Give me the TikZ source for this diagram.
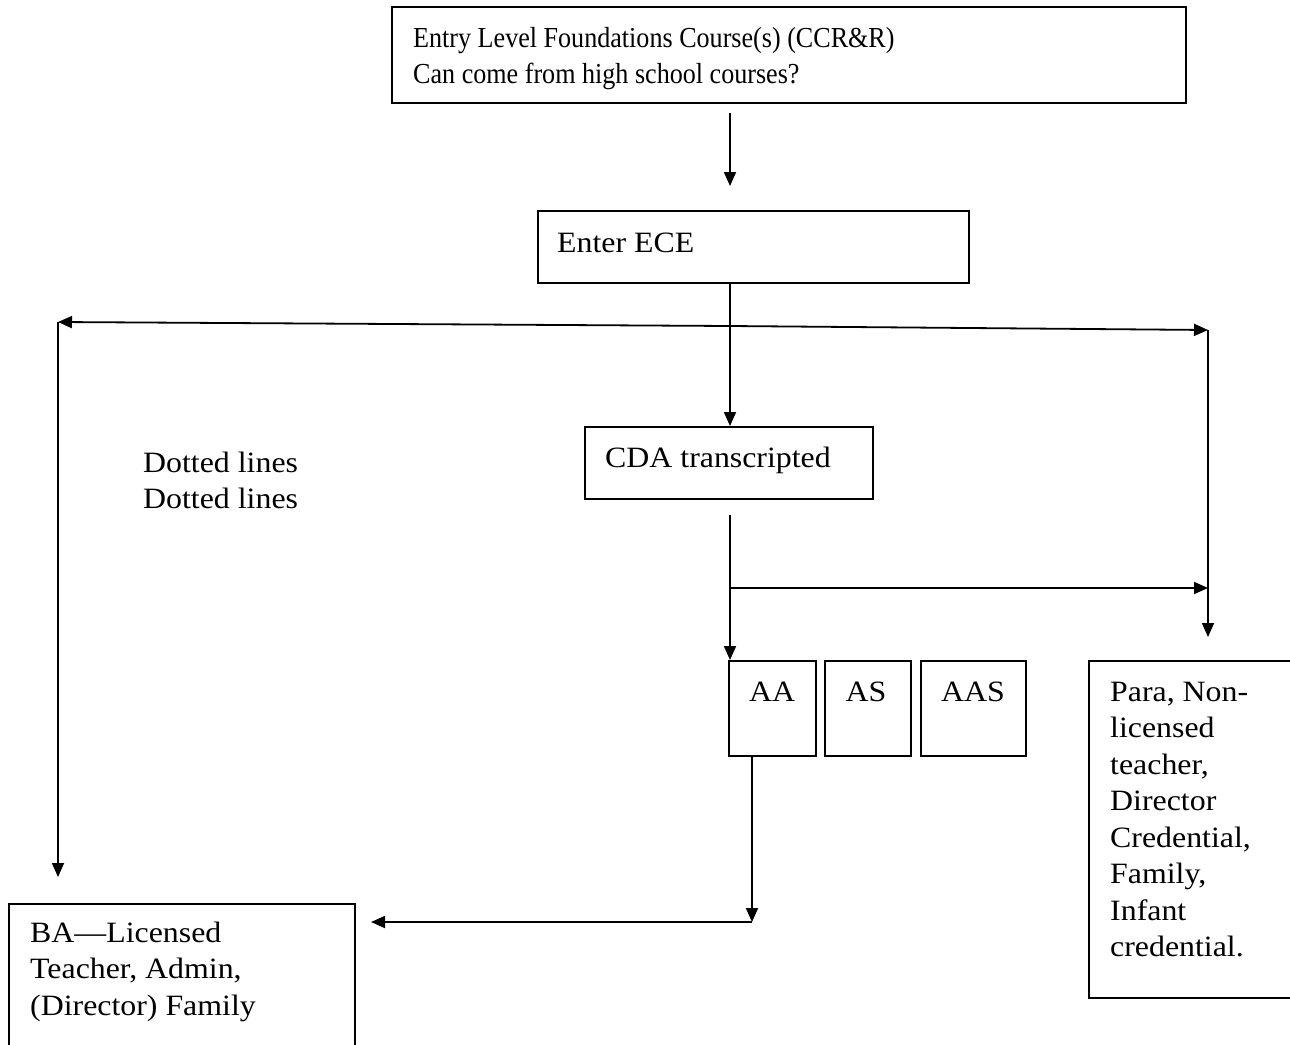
\documentclass[tikz,border=0pt]{standalone}
\usepackage{fontspec}
\setmainfont[FakeStretch=1.08]{Liberation Serif}
\newfontfamily\narrowserif[FakeStretch=0.9]{Liberation Serif}
\usetikzlibrary{arrows.meta}
\newcommand{\mlines}[1]{\parbox[t]{600pt}{#1}}
\begin{document}
\begin{tikzpicture}[x=1pt,y=-1pt,
  box/.style={draw, line width=1.8pt, inner sep=0pt, anchor=north west},
  txt/.style={inner sep=0pt, anchor=base west, font=\fontsize{29.5}{36.5}\selectfont},
  ctxt/.style={inner sep=0pt, anchor=base, font=\fontsize{29.5}{36.5}\selectfont},
  ln/.style={line width=1.8pt},
  arr/.style={line width=1.8pt, -{Triangle[length=14pt,width=12pt]}}]
\useasboundingbox (0,0) rectangle (1290,1044);

% boxes
\node[box, minimum width=794pt, minimum height=96pt] (top) at (391,6) {};
\node[box, minimum width=431pt, minimum height=72pt] (ece) at (537,210) {};
\node[box, minimum width=288pt, minimum height=72pt] (cda) at (584,426) {};
\node[box, minimum width=87pt, minimum height=95pt] (aa) at (728,660) {};
\node[box, minimum width=86pt, minimum height=95pt] (as) at (824,660) {};
\node[box, minimum width=105pt, minimum height=95pt] (aas) at (920,660) {};
\node[box, minimum width=222pt, minimum height=337pt] (para) at (1088,660) {};
\node[box, minimum width=346pt, minimum height=160pt] (ba) at (8,903) {};

% texts
\node[txt, font=\fontsize{29}{36}\narrowserif] (toptxt) at (413,47) {\mlines{Entry Level Foundations Course(s) (CCR\&R)\\Can come from high school courses?}};
\node[txt] (ecetxt) at (557,252) {Enter ECE};
\node[txt] (cdatxt) at (605,467) {CDA transcripted};
\node[txt] (dotted) at (143,472) {\mlines{Dotted lines\\Dotted lines}};
\node[ctxt] (aatxt) at (772,701) {AA};
\node[ctxt] (astxt) at (866,701) {AS};
\node[ctxt] (aastxt) at (973,701) {AAS};
\node[txt] (paratxt) at (1110,701) {\mlines{Para, Non-\\licensed\\teacher,\\Director\\Credential,\\Family,\\Infant\\credential.}};
\node[txt] (batxt) at (30,942) {\mlines{BA—Licensed\\Teacher, Admin,\\(Director) Family}};

% connector points
\coordinate (t1) at (730,113);
\coordinate (t2) at (730,186);
\coordinate (j1) at (730,326);
\coordinate (l1) at (58,322);
\coordinate (l2) at (58,877);
\coordinate (r1) at (1208,330);
\coordinate (r2) at (1208,637);
\coordinate (j2) at (730,515);
\coordinate (j3) at (730,588);
\coordinate (k1) at (752,922);
\coordinate (b1) at (371,922);

% connectors
\draw[arr] (t1) -- (t2);
\draw[ln] (ece.south -| j1) -- (j1);
\draw[arr] (j1) -- (cda.north -| j1);
\draw[arr] (j1) -- (l1);
\draw[arr] (l1) -- (l2);
\draw[arr] (j1) -- (r1);
\draw[arr] (r1) -- (r2);
\draw[arr] (j2) -- (aa.north -| j2);
\draw[arr] (j3) -- (j3 -| r1);
\draw[arr] (aa.south -| k1) -- (k1);
\draw[arr] (k1) -- (b1);
\end{tikzpicture}
\end{document}
